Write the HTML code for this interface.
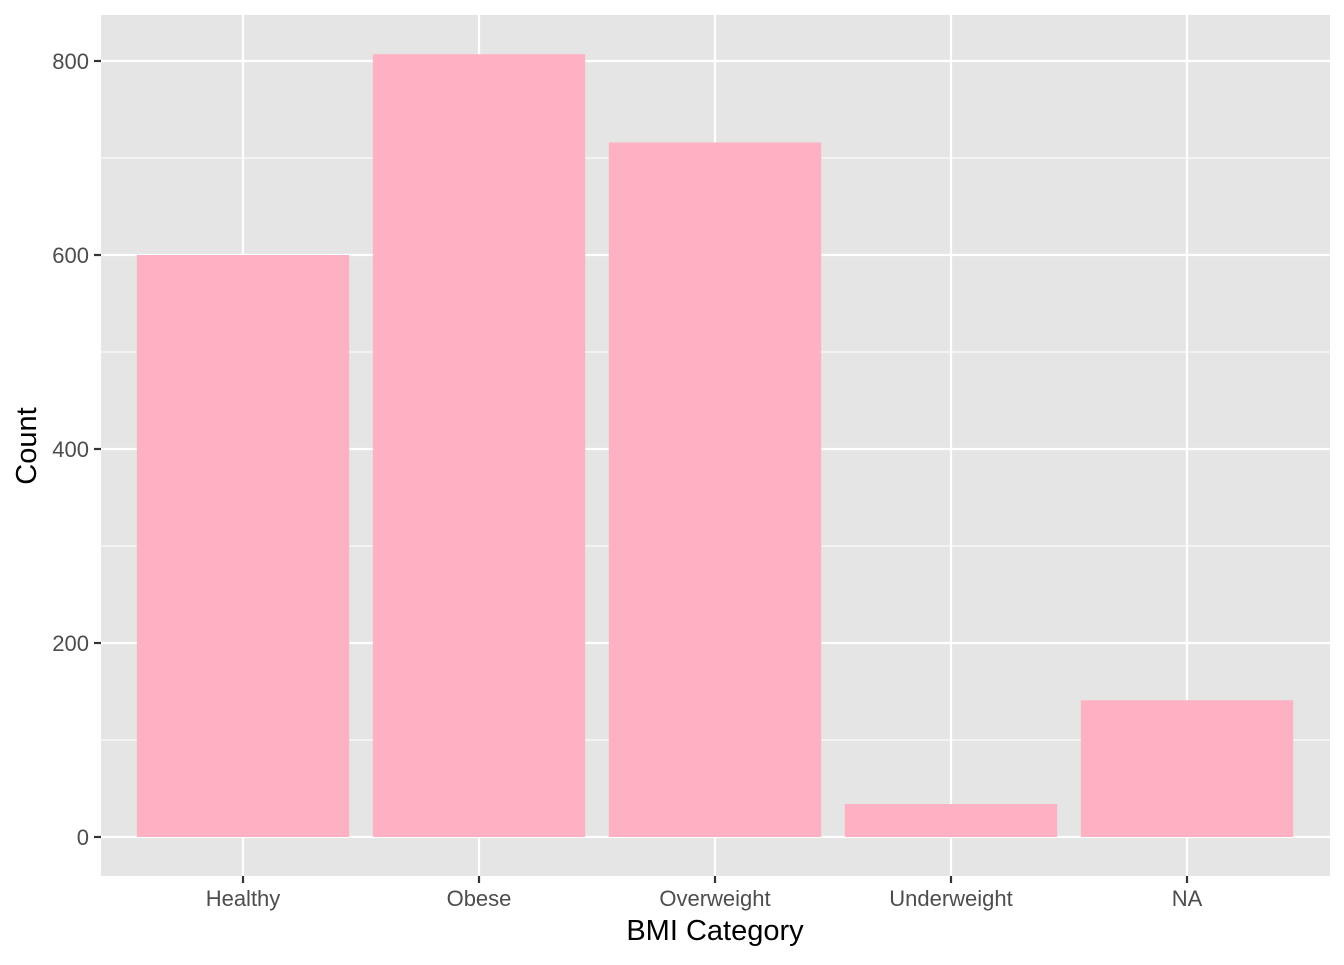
<!DOCTYPE html>
<html><head><meta charset="utf-8"><style>
html,body{margin:0;padding:0;background:#fff;}
svg text{font-family:"Liberation Sans",Arial,sans-serif;}
</style></head><body>
<svg id="chart" width="1344" height="960" xmlns="http://www.w3.org/2000/svg">
<rect x="101" y="15" width="1229" height="861" fill="#e5e5e5"/>
<g id="grid"></g><g id="bars"></g><g id="axes"></g>
<text x="715" y="940" text-anchor="middle" font-size="29" fill="#000">BMI Category</text>
<text transform="translate(36,446) rotate(-90)" text-anchor="middle" font-size="29" fill="#000">Count</text>
</svg>
<script>
const categories = ["Healthy","Obese","Overweight","Underweight","NA"];
const counts = [600, 807, 716, 34, 141];
const yTicks = [0, 200, 400, 600, 800];
const NS="http://www.w3.org/2000/svg";
const x0=243, step=236, bw=212.4;
function xs(i){return x0+i*step;}
function ys(v){return 837-v*0.97;}
function mk(tag,attrs,parent){const e=document.createElementNS(NS,tag);for(const k in attrs)e.setAttribute(k,attrs[k]);parent.appendChild(e);return e;}
const grid=document.getElementById('grid'),bars=document.getElementById('bars'),axes=document.getElementById('axes');
for(let i=0;i<yTicks.length-1;i++){
  const v=(yTicks[i]+yTicks[i+1])/2;
  const l=mk('line',{x1:101,x2:1330,y1:ys(v),y2:ys(v),stroke:'#fff','stroke-width':1.1},grid);
  
  
}
yTicks.forEach(v=>{
  const l=mk('line',{x1:101,x2:1330,y1:ys(v),y2:ys(v),stroke:'#fff','stroke-width':2.2},grid);
  
  
  const t=mk('line',{x1:94,x2:101,y1:ys(v),y2:ys(v),stroke:'#333','stroke-width':2.2},axes);
  
  
  const tx=mk('text',{x:89,y:ys(v)+8,'text-anchor':'end','font-size':22,fill:'#4d4d4d'},axes);
  tx.textContent=v;
  
  
});
categories.forEach((c,i)=>{
  const l=mk('line',{x1:xs(i),x2:xs(i),y1:15,y2:876,stroke:'#fff','stroke-width':2.2},grid);
  
  
  const b=mk('rect',{x:xs(i)-bw/2,y:ys(counts[i]),width:bw,height:ys(0)-ys(counts[i]),fill:'#fdb1c3'},bars);
  
  
  const t=mk('line',{x1:xs(i),x2:xs(i),y1:876,y2:883,stroke:'#333','stroke-width':2.2},axes);
  
  
  const tx=mk('text',{x:xs(i),y:906,'text-anchor':'middle','font-size':22,fill:'#4d4d4d'},axes);
  tx.textContent=c;
  
  
});
</script>
</body></html>
